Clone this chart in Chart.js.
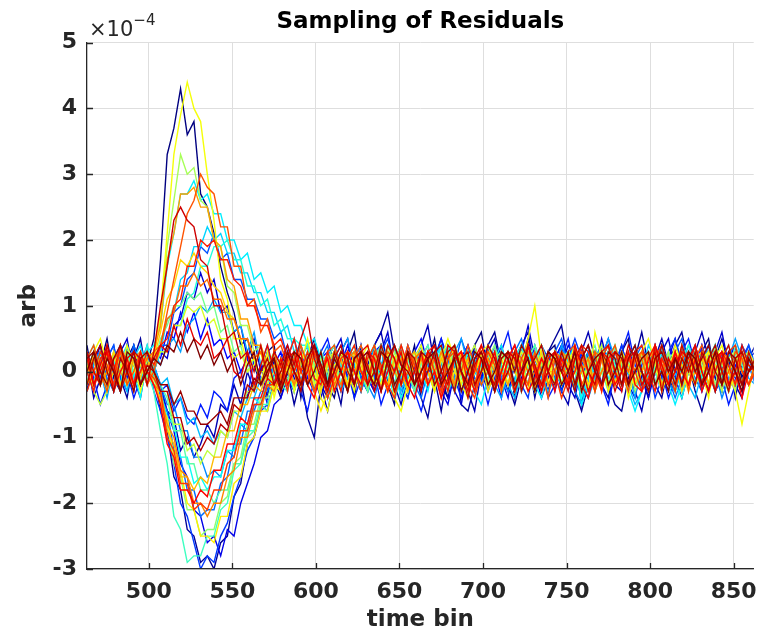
<!DOCTYPE html>
<html>
<head>
<meta charset="utf-8">
<script src="https://cdn.jsdelivr.net/npm/chart.js@4/dist/chart.umd.min.js"></script>
<style>
html,body{margin:0;padding:0;background:#ffffff;}
#wrap{width:767px;height:634px;position:relative;}
</style>
</head>
<body>
<div id="wrap"><canvas id="c" width="767" height="634"></canvas></div>
<script>
// Time bins (x) sampled along the axis
const timeBins = [463,467,471,475,479,483,487,491,495,499,
503,507,511,515,519,523,527,531,535,539,
543,547,551,555,559,563,567,571,575,579,
583,587,591,595,599,603,607,611,615,619,
623,627,631,635,639,643,647,651,655,659,
663,667,671,675,679,683,687,691,695,699,
703,707,711,715,719,723,727,731,735,739,
743,747,751,755,759,763,767,771,775,779,
783,787,791,795,799,803,807,811,815,819,
823,827,831,835,839,843,847,851,855,859,863];

const xTicks = [500,550,600,650,700,750,800,850];
const yTicks = [-3,-2,-1,0,1,2,3,4,5];

// Residual traces, values in units of 1e-5 (axis shows units of 1e-4)
const trace00 = [4,-2,1,5,-1,-3,2,4,-2,1, 5,17,33,37,43,36,38,27,25,21, 16,12,9,4,5,1,-2,3,4,-3, 1,3,-4,2,5,1,-2,-4,1,3, 6,-1,-3,2,4,-2,-5,3,0,4, -3,1,5,-1,-4,3,1,-2,4,6, 0,-3,2,3,-4,1,5,-1,-2,3, 4,-3,0,2,-5,3,1,4,-2,1, 3,5,-2,0,-4,2,3,-1,-3,4, 0,-2,3,5,-1,-3,2,4,-1,3, 1];
const trace01 = [-3,2,4,-2,3,-1,-4,2,5,-1, 0,-6,-9,-16,-18,-24,-25,-29,-28,-30, -26,-25,-19,-17,-11,-10,-5,-6,-1,-4, 0,-5,-1,-7,-10,-2,-6,-1,-5,2, -4,3,-2,4,6,9,3,2,-3,1, -4,-7,-1,-6,0,3,-5,-6,-2,-1, 4,6,1,-2,-5,-1,2,-4,1,3, 5,7,1,-3,-6,-2,2,4,-2,-5, -6,-1,2,6,1,-2,-4,1,4,6, 1,-3,-6,-2,2,5,1,-2,-4,2, 4];
const trace02 = [2,-4,-1,3,0,-3,4,1,-2,3, -1,-3,-6,-7,-12,-10,-13,-11,-8,-10, -5,-6,-2,-5,0,-3,1,-4,2,-2, 3,-1,-3,2,4,-2,-4,1,3,5, 0,-3,1,4,6,1,-2,-5,-1,2, 4,7,1,-2,-4,1,3,-3,-6,0, 3,5,0,-3,1,4,6,0,-4,-1, 2,-3,-5,1,3,6,2,-2,-4,1, 4,0,-3,-6,-1,2,5,1,-1,-4, 0,3,6,2,-1,-3,2,-4,1,3, -2];
const trace03 = [-3,1,4,0,-2,3,5,-1,-4,2, 0,3,2,7,8,12,11,15,12,14, 9,10,6,7,2,5,0,3,-2,1, 3,-3,2,4,-1,-4,0,3,5,0, -2,4,-1,-3,3,6,0,-2,-4,1, 3,-2,2,5,1,-3,-5,1,4,0, -3,1,4,0,-2,3,7,2,-1,-3, 2,4,-2,-4,1,3,0,5,1,-2, -3,2,4,-1,-4,0,3,5,0,-2, 1,4,0,-3,3,6,1,-1,-3,2, 3];
const trace04 = [1,-2,3,0,-3,2,-1,4,1,-2, 1,-2,-6,-9,-14,-16,-21,-22,-26,-25, -28,-24,-25,-20,-17,-14,-10,-9,-5,-4, -1,-3,1,-2,2,-1,-3,1,3,-1, 2,4,-1,-3,1,3,-2,0,4,1, -2,1,3,-3,-5,0,2,4,1,-2, 0,3,-1,-4,2,4,1,-2,0,3, -3,1,4,2,-2,-4,0,3,1,-1, 2,-2,-4,1,3,0,-3,2,5,1, -2,0,3,1,-3,-1,2,4,0,-2, 1];
const trace05 = [2,-2,1,3,-3,0,4,-1,-2,2, 3,2,6,5,9,6,9,5,8,4, 5,2,3,0,2,-2,1,-3,1,3, -2,2,4,-1,-3,2,3,-2,1,4, 1,-3,0,3,4,-2,1,-4,0,3, 5,1,-2,0,3,-3,2,4,-1,-2, 3,0,-4,2,4,1,-2,3,0,-3, 2,4,-1,-2,3,-3,0,2,5,1, -2,1,3,-2,1,4,-1,-3,2,3, 0,-2,4,1,-3,0,3,1,-2,3, 0];
const trace06 = [3,-1,-5,-2,2,4,0,-4,-1,3, 0,-3,-2,-6,-4,-7,-8,-5,-7,-3, -4,-6,-1,0,-4,2,-1,-5,-2,2, 4,0,-3,-6,-1,3,5,1,-3,0, -4,-1,3,0,-5,-2,2,4,0,-3, -6,-2,2,5,2,-1,-4,0,3,-1, -5,-1,3,6,1,-3,0,4,1,-4, -2,2,5,0,-4,-1,3,-2,-5,0, 3,6,1,-3,0,4,0,-4,-1,3, 5,1,-3,0,4,-1,-5,-2,2,4, 0];
const trace07 = [0,3,-1,2,4,-2,0,2,-2,3, -3,-6,-10,-14,-20,-22,-26,-30,-28,-29, -25,-23,-19,-16,-12,-10,-6,-5,-2,-1, -2,2,-3,1,3,-2,2,4,0,-3, 2,4,-2,0,3,5,1,-2,-4,0, 3,-2,2,4,-1,-3,1,3,-2,1, 4,1,-3,0,3,-2,-4,2,4,2, -1,-3,2,5,2,-2,0,3,-3,1, 4,0,-2,3,1,-4,-1,3,5,1, -2,1,4,0,-3,3,1,-2,4,2, -1];
const trace08 = [3,0,-2,2,4,-1,-3,2,0,3, 1,4,4,9,10,14,15,19,18,21, 17,18,14,14,11,11,8,8,5,6, 2,5,1,2,-1,3,-2,2,4,0, -3,2,3,-1,4,1,-2,3,0,-3, 2,4,-1,3,-2,1,5,2,-1,-2, 2,-3,0,3,1,-2,4,1,-3,0, 3,5,1,-2,0,3,-3,2,4,-1, -2,2,3,-3,0,4,1,-2,3,5, 1,-1,-3,2,4,0,-2,3,1,4, 1];
const trace09 = [-2,2,3,-1,-3,2,0,4,1,-2, 1,-4,-6,-12,-13,-18,-18,-22,-21,-21, -17,-16,-11,-11,-6,-6,-3,-3,0,-1, 2,-2,1,3,-3,2,4,-1,-2,2, 3,-1,-3,2,4,1,-2,0,3,-2, -4,0,2,4,2,-2,0,3,-3,1, 4,1,-2,0,3,5,1,-3,0,2, -2,3,0,-3,2,4,-1,-2,3,1, 0,-3,2,4,1,-2,3,-1,-4,-1, 2,3,-2,0,4,1,-3,0,3,1, -2];
const trace10 = [0,-3,2,3,-2,0,3,-2,1,4, -1,-2,-5,-5,-9,-9,-13,-13,-16,-15, -16,-12,-13,-8,-9,-5,-5,-2,-2,-1, 1,2,-2,3,0,-3,2,4,1,-2, 0,3,-2,-4,0,2,4,-1,-3,2, 3,0,-2,1,4,2,-3,0,2,-2, 1,4,-1,-3,-1,2,3,0,4,1, -2,0,3,-3,-5,-1,2,4,0,3, 1,-2,0,3,-2,1,4,0,-3,2, 3,-2,1,4,0,-4,-1,3,0,2, 0];
const trace11 = [-2,3,0,-4,1,4,0,-3,2,0, 3,1,4,5,3,7,8,10,9,11, 9,9,6,7,3,6,1,4,-1,2, -3,2,4,0,-2,3,-4,1,3,5, 1,-3,0,4,1,-2,-4,0,3,1, 4,0,-3,2,-2,3,5,1,-3,0, 3,-2,-4,0,2,4,0,-3,2,-2, 0,4,1,-3,0,3,-2,2,5,2, -2,0,-4,2,3,0,4,-2,-3,1, 4,1,-2,3,0,-3,2,5,2,-1, -2];
const trace12 = [-2,1,3,1,-2,0,-3,2,3,0, 1,-2,-1,-5,-4,-8,-7,-10,-9,-11, -9,-10,-6,-7,-4,-4,-1,-2,1,-3, 2,0,-2,3,1,-2,1,3,-3,-1, 2,3,-1,-2,1,4,1,-3,0,2, -2,1,3,0,-3,-1,2,3,0,-2, 1,3,1,-2,-4,0,2,3,-1,-3, -1,2,3,0,-2,-4,-1,2,3,0, 2,-2,-5,-3,0,2,3,-2,0,2, -2,-4,0,3,1,-2,0,3,1,-2, 1];
const trace13 = [0,3,1,-2,0,3,-2,2,4,0, 2,3,8,9,14,15,19,19,22,20, 21,18,18,15,15,12,12,9,9,6, 7,3,4,1,2,1,-1,-2,2,3, 0,-3,2,4,1,-1,-2,3,0,-3, 2,3,-2,0,4,1,-2,0,3,1, -2,2,0,3,-3,0,4,1,-2,3, 0,-2,2,4,0,-3,2,3,-1,-2, 3,1,-2,0,4,2,-2,1,0,-3, 2,4,0,-2,3,0,-2,2,4,1, 0];
const trace14 = [2,-2,3,0,-3,2,4,-1,-2,3, 4,7,16,21,27,27,29,26,27,24, 24,20,20,17,18,14,15,12,13,9, 10,7,7,4,5,2,2,1,1,-3, 2,4,-1,-2,3,0,-4,-1,2,3, 0,-3,2,4,1,-2,0,3,-3,-5, -1,2,4,0,-3,2,3,-2,-4,0, 3,0,-2,2,-5,-2,1,3,1,-2, 2,-3,-6,-3,1,3,1,-2,-5,-2, 1,3,-1,2,4,0,-3,2,3,0, 2];
const trace15 = [2,4,0,-3,2,-2,3,0,-4,2, -1,-3,-7,-8,-13,-13,-17,-16,-18,-16, -16,-12,-12,-8,-8,-4,-5,-1,-2,2, 0,-3,2,4,0,-2,3,-3,0,2, 4,0,-3,2,-2,3,0,-4,-1,3, 2,-2,0,4,1,-3,0,3,-2,2, -3,0,3,2,-2,4,0,-3,2,0, 3,-2,2,0,-4,-1,3,0,2,4, 0,-3,2,3,-2,0,4,1,-2,-4, 0,3,-2,2,4,0,-3,2,0,3, -1];
const trace16 = [3,0,-2,2,0,3,-2,2,0,4, 0,3,3,7,7,11,12,16,16,19, 19,20,17,17,13,13,10,11,7,8, 5,5,4,4,1,2,-1,3,-2,2, 0,3,-2,2,4,1,-2,0,3,0, -2,2,3,0,-3,2,0,3,1,-2, 0,3,1,-2,2,4,0,-2,3,0, 2,-2,0,3,1,-2,0,3,4,0, -2,2,0,3,-2,0,3,1,-2,2, 4,1,-2,0,3,1,0,-2,2,3, 0];
const trace17 = [2,-2,0,3,1,-3,0,2,-2,0, -3,-9,-14,-22,-24,-29,-28,-28,-25,-25, -21,-20,-15,-14,-9,-9,-5,-5,-2,-2, -3,1,2,-2,3,0,-3,2,0,3, 2,-2,0,3,-2,1,4,0,-3,2, 0,3,-2,2,4,0,-2,1,-3,0, 3,1,-2,0,3,-3,2,4,0,-2, 2,0,3,-2,0,2,-3,0,3,1, -2,2,4,0,-3,1,0,3,-2,0, 3,-2,2,0,-3,2,4,0,-2,3, 0];
const trace18 = [0,2,-2,3,0,-3,2,0,3,-2, 0,-2,-4,-9,-9,-14,-14,-18,-18,-20, -18,-18,-14,-14,-10,-9,-5,-6,-2,-3, -1,0,2,-2,0,3,1,-2,0,2, 3,0,-2,2,4,0,-3,0,2,-2, 2,4,1,-2,0,3,0,-3,2,3, 0,-2,2,3,0,-3,2,4,1,0, -2,2,3,-2,0,2,4,0,-3,2, 0,3,2,-2,2,0,-3,2,3,0, 2,-2,0,3,2,-2,0,4,1,0, 2];
const trace19 = [-2,2,0,-3,3,1,-2,0,2,-1, 1,5,7,10,10,12,11,12,9,10, 6,7,3,4,0,2,-2,1,3,-1, 2,-3,0,3,1,-2,2,4,0,-2, 3,0,-3,1,4,1,-2,2,0,-3, 1,3,0,-2,2,4,-1,-3,1,3, 0,-2,3,1,-3,2,4,0,-2,1, 3,-2,0,2,-3,1,3,0,-2,4, 1,-3,0,3,1,-2,2,0,-3,2, 3,0,-2,2,4,-1,-3,0,2,1, 0];
const trace20 = [-2,2,0,-3,2,3,0,-2,2,0, -1,-5,-8,-14,-16,-21,-21,-25,-24,-24, -20,-19,-14,-13,-8,-8,-4,-4,-1,1, -2,2,0,3,-2,0,2,-3,0,3, 2,-2,0,3,0,-3,2,4,0,-2, 3,0,-2,2,-3,0,3,1,-2,0, 2,4,0,-2,2,3,0,-3,2,0, 3,-2,0,2,4,1,-2,0,3,-2, 0,2,-3,0,3,2,-2,2,0,3, -2,0,3,2,-2,2,0,-3,2,3, 0];
const trace21 = [0,3,1,-2,2,0,3,-2,0,2, 3,8,19,26,33,30,31,26,25,20, 19,13,12,7,7,3,4,0,3,-1, -2,2,0,3,-2,2,0,-3,2,3, 0,-2,2,4,0,-2,3,0,-3,2, 0,3,1,-2,0,4,1,-2,0,3, -2,2,3,0,-3,2,0,3,1,-2, 0,3,1,-2,2,0,-3,2,4,0, 2,-2,0,3,1,-2,0,3,-2,2, 0,3,1,-2,4,1,0,-2,2,3, 1];
const trace22 = [2,-3,-5,-3,0,2,-2,0,3,1, 0,-3,-3,-8,-8,-12,-11,-14,-12,-13, -9,-10,-6,-6,-3,-3,0,0,-3,2, 0,3,-2,2,0,-3,2,3,0,-2, 2,0,3,-2,0,4,1,-2,0,3, -2,2,0,3,1,-3,0,2,4,0, 0,-3,2,0,3,1,-2,2,4,1, -2,0,3,0,-3,2,1,4,0,-2, 3,0,-2,2,0,3,1,-2,0,4, 1,-2,0,3,0,-3,2,3,0,2, 0];
const trace23 = [0,2,-2,0,3,1,-2,0,2,3, 1,3,3,7,7,10,9,10,7,8, 5,5,2,3,0,1,3,-2,0,2, -2,0,3,1,-2,0,2,-2,3,0, 2,-2,0,3,1,-2,0,2,3,0, -2,2,0,3,-2,0,2,-3,0,2, 3,0,-2,2,0,3,1,-2,0,2, -2,0,3,1,-2,0,2,3,0,-2, 2,0,-2,3,0,2,-2,0,3,1, 0,-2,2,3,0,-2,0,2,-2,3, 1];
const trace24 = [-2,3,5,1,-3,0,4,1,-3,1, 2,9,21,33,39,44,40,38,30,23, 14,11,5,5,1,2,-2,3,-4,0, 3,-3,1,5,0,-4,-6,-1,3,0, -3,2,4,0,-2,3,-4,-6,-2,2, 4,0,-3,2,5,2,-2,-4,0,3, 4,1,-3,0,3,1,5,10,2,-2, 3,-2,1,4,0,-3,6,2,-2,0, 2,-4,0,3,5,1,-3,0,4,1, -2,3,0,-4,2,4,0,-3,-8,-3, 2];
const trace25 = [2,0,-2,3,1,-2,0,3,1,-2, 0,-5,-7,-13,-15,-20,-21,-25,-25,-26, -22,-22,-17,-16,-11,-10,-6,-6,-2,-3, 1,-2,2,0,-3,-6,-3,1,2,-2, 0,3,1,-2,0,-3,2,3,0,-2, 2,0,-3,2,3,0,-2,2,0,3, -2,0,2,-2,3,0,-3,2,0,3, 2,-2,0,3,1,-2,0,2,-3,0, 3,1,-2,0,2,4,0,-2,2,0, -3,2,0,3,1,-2,0,2,3,0, 1];
const trace26 = [1,-2,2,0,3,-2,0,2,-1,3, 2,6,11,13,17,16,18,16,15,13, 12,9,8,5,5,2,3,0,2,-2, 1,3,-2,0,2,-3,1,3,0,-2, 3,1,-2,2,0,-3,2,3,0,-2, 2,0,3,-2,0,2,3,-2,0,2, -3,0,2,3,0,-2,2,0,3,-2, 0,2,-2,3,1,-2,0,3,2,-2, 0,3,-2,0,2,3,-2,0,2,-3, 0,2,3,-2,0,2,-3,0,3,1, 0];
const trace27 = [-2,0,2,-2,0,3,1,-2,0,2, -2,-4,-9,-11,-16,-16,-18,-16,-17,-13, -13,-9,-9,-5,-5,-2,-3,0,1,-2, 2,0,-2,1,3,1,-2,0,2,-3, 0,2,-2,3,0,-2,2,0,-3,2, 3,0,-2,2,0,-2,3,1,-2,0, 2,-2,0,3,1,-2,0,-3,2,0, 0,3,1,-2,0,2,-2,3,0,-2, 2,0,3,-2,0,2,-2,0,3,1, -2,0,2,-2,3,0,-2,2,0,-2, 1];
const trace28 = [2,-2,0,3,1,0,-2,2,3,0, 3,7,17,21,27,27,28,25,25,20, 19,14,13,8,8,4,4,1,2,-1, 2,-2,0,2,3,0,-2,2,0,3, 0,2,-2,0,3,1,0,-2,2,3, 0,-2,2,0,3,-2,0,2,-2,0, 3,2,0,-2,2,0,3,1,-2,0, 2,0,-2,2,3,0,-2,0,2,3, 0,-2,2,0,3,2,-2,0,2,0, 3,1,-2,0,2,3,0,-2,2,0, 1];
const trace29 = [0,2,-2,0,2,3,0,-2,2,0, -2,-3,-8,-10,-15,-16,-20,-20,-22,-20, -20,-16,-15,-10,-10,-6,-6,-2,-3,0, 0,-2,2,0,-3,-1,2,0,-2,2, 3,0,-2,2,0,-3,0,2,-2,0, 2,-2,0,3,0,-2,2,0,-3,0, 2,0,-2,2,3,0,-2,0,2,-2, 0,3,2,-2,0,2,-3,0,2,0, -2,2,0,3,2,-2,0,2,-2,0, 2,0,-2,2,3,0,-2,2,0,-2, 0];
const trace30 = [2,0,-2,2,0,3,2,-2,0,2, 3,4,8,9,13,13,15,13,14,11, 11,8,8,5,5,2,3,0,3,-1, 2,0,-2,2,3,0,2,-2,0,3, 2,0,-2,2,0,3,2,-2,0,2, 3,0,2,-2,0,2,3,0,-2,2, 0,2,-2,0,3,2,0,-2,2,0, 3,2,-2,0,2,0,3,2,-2,0, 2,0,3,2,-2,0,2,-2,0,3, 2,0,-2,2,0,3,2,0,-2,2, 0];
const trace31 = [2,4,0,-3,2,3,-2,0,3,-2, 0,4,9,14,19,24,26,30,28,27, 22,22,16,16,10,11,6,8,3,4, 1,0,4,1,-3,0,3,4,0,-3, 2,4,0,-2,3,1,-3,0,4,1, -2,3,0,-4,2,3,0,4,1,-2, 0,3,-3,2,4,0,-2,3,0,-4, 2,0,3,4,-2,0,3,-3,2,4, 0,-3,2,3,0,4,1,-2,0,3, -3,2,4,0,3,-2,0,3,2,-2, 1];
const trace32 = [-3,0,3,1,-2,4,0,-3,2,0, -1,-3,-10,-12,-17,-17,-21,-20,-21,-18, -18,-14,-13,-9,-9,-5,-5,-2,-2,1, -3,2,0,-2,3,0,-4,-1,2,3, 0,-3,2,4,0,-2,-4,0,3,1, -2,3,0,-3,2,4,0,-2,-4,0, 3,1,-2,0,-3,2,4,0,-2,3, 0,-4,-1,2,3,0,-3,2,4,0, -2,3,0,-3,-1,2,4,0,-3,2, 3,0,-2,2,-3,0,3,4,0,-2, 0];
const trace33 = [0,-3,2,3,0,4,1,-2,0,3, 1,4,5,10,11,16,16,20,19,20, 17,17,14,13,10,10,7,7,4,5, 2,5,0,3,-1,-2,3,0,-3,2, 4,0,-2,3,1,-3,0,4,1,-2, 0,3,4,0,-3,2,3,-2,0,4, 1,-3,0,3,2,-2,4,1,-3,0, 3,1,-2,0,4,3,0,-3,2,3, 0,-2,3,4,0,-3,2,0,3,-2, 1,4,0,-3,0,3,1,-2,3,0, 2];
const trace34 = [2,-2,0,3,-3,0,2,-2,3,0, -2,-5,-11,-13,-18,-18,-20,-18,-19,-15, -15,-11,-11,-7,-8,-4,-4,-1,-2,2, -2,0,3,-2,-4,0,2,-3,0,3, 0,-2,3,2,-3,0,4,1,-2,0, 3,-2,0,-4,-1,2,3,0,-3,2, 0,3,-2,2,4,0,-3,-1,2,0, -3,2,0,3,-2,-4,0,3,2,-2, 0,3,-2,-3,2,4,0,-2,3,0, -2,2,-3,0,3,2,-2,0,-4,0, 1];
const trace35 = [3,-2,1,4,0,-3,2,3,-2,0, 2,4,3,7,4,8,5,4,6,2, 3,5,0,-1,3,-2,1,4,0,-3, 2,3,-2,0,4,1,-3,0,3,2, -2,3,4,0,-3,2,0,3,-2,-4, 0,3,2,-2,4,3,0,-3,2,4, 1,-3,0,3,2,-2,4,0,-3,2, 3,0,-2,4,1,-3,0,3,4,0, -3,2,3,0,-2,4,1,-2,0,3, 2,4,0,-3,2,3,-2,0,4,1, 0];
const trace36 = [3,0,-2,4,1,-3,0,3,2,-2, 3,10,16,23,25,23,22,17,16,10, 10,5,6,2,3,0,4,-1,3,1, 4,1,5,8,2,-1,-3,2,4,0, -2,3,1,-3,0,4,2,-2,3,0, -3,2,4,0,-2,3,0,-4,1,3, 0,-2,3,2,-3,0,4,1,-2,0, 3,0,-3,2,4,0,-2,3,1,-3, 0,4,2,-2,0,3,-3,2,0,4, 1,-2,3,0,-3,2,4,0,-2,3, 0];
const trace37 = [-2,2,4,0,-3,2,0,3,-2,1, 0,-3,-3,-7,-7,-11,-10,-12,-10,-11, -8,-9,-5,-6,-2,-3,0,2,-2,0, 3,0,-3,2,4,0,-2,3,0,-3, 2,3,-2,0,4,1,-3,0,3,2, -2,0,3,4,0,-3,2,3,-2,0, 4,2,-2,0,3,-3,0,2,4,0, -2,3,0,-3,2,4,1,-2,0,3, 2,-2,3,0,-3,0,4,1,-2,2, 0,3,-2,2,4,0,-3,2,3,0, 1];
const trace38 = [2,3,0,-2,2,4,0,-3,2,3, 0,-2,-2,-5,-3,-6,-6,-8,-8,-7, -6,-8,-4,-4,-4,-1,-2,1,2,-2, 3,0,-2,2,4,1,-2,0,3,2, -2,2,3,0,-3,2,4,1,0,-2, 3,2,-2,0,3,4,0,-2,2,3, 0,-3,2,3,0,4,2,-2,0,3, 2,0,3,-2,2,4,0,-2,3,2, -2,2,4,0,-3,2,3,0,2,-2, 3,0,2,4,0,-2,3,2,-2,0, 2];
const trace39 = [0,3,-2,2,0,-3,3,2,-2,0, 2,1,4,3,6,3,5,2,4,1, 3,0,2,-2,1,3,-2,0,2,-3, 0,3,2,-2,0,3,-2,2,0,-3, 2,3,0,-2,3,2,-2,0,3,-2, 0,2,3,-2,0,2,-3,0,3,2, -2,0,3,2,-2,0,2,-3,0,3, 2,-2,0,3,-3,0,2,3,-2,0, 3,-2,0,2,3,-2,0,-3,2,0, 3,2,-2,0,3,-2,2,0,-3,2, 0];

const traces = [trace00,trace01,trace02,trace03,trace04,trace05,trace06,trace07,trace08,trace09,
  trace10,trace11,trace12,trace13,trace14,trace15,trace16,trace17,trace18,trace19,
  trace20,trace21,trace22,trace23,trace24,trace25,trace26,trace27,trace28,trace29,
  trace30,trace31,trace32,trace33,trace34,trace35,trace36,trace37,trace38,trace39];

function jet(t){
  const c = v => Math.round(255*Math.max(0, Math.min(1, v)));
  return 'rgb(' + c(1.5-Math.abs(4*t-3)) + ',' + c(1.5-Math.abs(4*t-2)) + ',' + c(1.5-Math.abs(4*t-1)) + ')';
}

const N = traces.length;
const datasets = traces.map((tr, i) => ({
  data: tr.map((v, k) => ({x: timeBins[k], y: v / 10})),
  borderColor: jet(i / (N - 1)),
  borderWidth: 1.4,
  pointRadius: 0,
  fill: false,
  tension: 0,
  order: N - 1 - i
}));

const FONT = 'DejaVu Sans';
const AX = '#262626';

const innerTicks = {
  id: 'innerTicks',
  afterDatasetsDraw(chart){
    const {ctx, chartArea: a, scales: {x, y}} = chart;
    ctx.save();
    ctx.strokeStyle = AX;
    ctx.lineWidth = 1.3;
    ctx.beginPath();
    xTicks.forEach(v => {
      const px = Math.round(x.getPixelForValue(v)) + 0.5;
      ctx.moveTo(px, a.bottom); ctx.lineTo(px, a.bottom - 6);
    });
    yTicks.forEach(v => {
      const py = Math.round(y.getPixelForValue(v)) + 0.5;
      ctx.moveTo(a.left, py); ctx.lineTo(a.left + 6, py);
    });
    ctx.stroke();
    ctx.restore();
  }
};

const exponentLabel = {
  id: 'exponentLabel',
  afterDraw(chart){
    const ctx = chart.ctx;
    const a = chart.chartArea;
    ctx.save();
    ctx.fillStyle = AX;
    ctx.textBaseline = 'alphabetic';
    ctx.textAlign = 'left';
    ctx.font = '21px "' + FONT + '"';
    const base = '\u00d710';
    ctx.fillText(base, a.left + 2, 36);
    const w = ctx.measureText(base).width;
    ctx.font = '15px "' + FONT + '"';
    ctx.fillText('\u22124', a.left + 2 + w, 25);
    ctx.restore();
  }
};

new Chart(document.getElementById('c'), {
  type: 'line',
  data: { datasets },
  options: {
    responsive: false,
    animation: false,
    devicePixelRatio: 1,
    layout: { padding: { left: 0, right: 12, top: 0, bottom: 0 } },
    plugins: {
      legend: { display: false },
      tooltip: { enabled: false },
      title: {
        display: true,
        text: 'Sampling of Residuals',
        fullSize: false,
        color: '#000000',
        font: { family: FONT, size: 23, weight: 'bold', lineHeight: 1.2 },
        padding: { top: 8, bottom: 7 }
      }
    },
    scales: {
      x: {
        type: 'linear',
        min: 463, max: 862,
        afterBuildTicks: s => { s.ticks = xTicks.map(v => ({value: v})); },
        afterFit: s => { s.height = 65; },
        grid: { color: 'rgb(222,222,222)', lineWidth: 1, drawTicks: false },
        border: { display: true, color: AX, width: 1.3, z: 1 },
        ticks: { color: AX, font: { family: FONT, size: 22, weight: 'bold' }, padding: 10, maxRotation: 0, autoSkip: false },
        title: { display: true, text: 'time bin', color: AX, font: { family: FONT, size: 23, weight: 'bold', lineHeight: 1.2 }, padding: { top: 0, bottom: 0 } }
      },
      y: {
        type: 'linear',
        min: -3, max: 5,
        afterBuildTicks: s => { s.ticks = yTicks.map(v => ({value: v})); },
        afterFit: s => { s.width = 87; },
        grid: { color: 'rgb(222,222,222)', lineWidth: 1, drawTicks: false },
        border: { display: true, color: AX, width: 1.3, z: 1 },
        ticks: { color: AX, font: { family: FONT, size: 22, weight: 'bold' }, padding: 10 },
        title: { display: true, text: 'arb', color: AX, font: { family: FONT, size: 23, weight: 'bold', lineHeight: 1.2 }, padding: { top: 15, bottom: 0 } }
      }
    }
  },
  plugins: [innerTicks, exponentLabel]
});
</script>
</body>
</html>
